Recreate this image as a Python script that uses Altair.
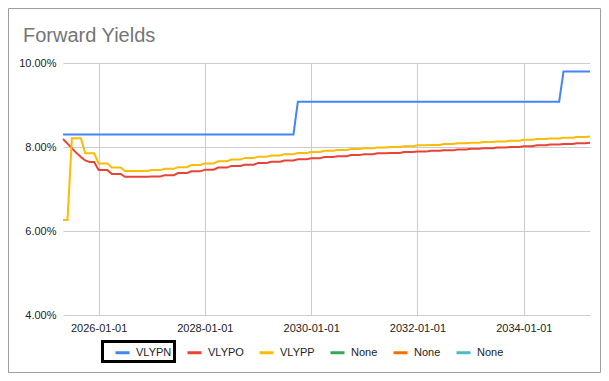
import altair as alt
import pandas as pd

# ---- data (monthly, percent) ----
start_month = "2025-05-01"
n_months = 120

series_names = ["VLYPN", "VLYPO", "VLYPP", "None1", "None2", "None3"]
series_colors = ["#4285F4", "#EA4335", "#FBBC04", "#34A853", "#FF6D01", "#46BDC6"]

vlypn = [
    8.30, 8.30, 8.30, 8.30, 8.30, 8.30, 8.30, 8.30, 8.30, 8.30, 8.30, 8.30,
    8.30, 8.30, 8.30, 8.30, 8.30, 8.30, 8.30, 8.30, 8.30, 8.30, 8.30, 8.30,
    8.30, 8.30, 8.30, 8.30, 8.30, 8.30, 8.30, 8.30, 8.30, 8.30, 8.30, 8.30,
    8.30, 8.30, 8.30, 8.30, 8.30, 8.30, 8.30, 8.30, 8.30, 8.30, 8.30, 8.30,
    8.30, 8.30, 8.30, 8.30, 8.30, 9.08, 9.08, 9.08, 9.08, 9.08, 9.08, 9.08,
    9.08, 9.08, 9.08, 9.08, 9.08, 9.08, 9.08, 9.08, 9.08, 9.08, 9.08, 9.08,
    9.08, 9.08, 9.08, 9.08, 9.08, 9.08, 9.08, 9.08, 9.08, 9.08, 9.08, 9.08,
    9.08, 9.08, 9.08, 9.08, 9.08, 9.08, 9.08, 9.08, 9.08, 9.08, 9.08, 9.08,
    9.08, 9.08, 9.08, 9.08, 9.08, 9.08, 9.08, 9.08, 9.08, 9.08, 9.08, 9.08,
    9.08, 9.08, 9.08, 9.08, 9.08, 9.80, 9.80, 9.80, 9.80, 9.80, 9.80, 9.80,
]

vlypo = [
    8.19, 8.08, 7.97, 7.86, 7.76, 7.68, 7.64, 7.64, 7.45, 7.45, 7.45, 7.36,
    7.36, 7.36, 7.29, 7.29, 7.29, 7.29, 7.29, 7.29, 7.30, 7.30, 7.30, 7.33,
    7.33, 7.33, 7.38, 7.38, 7.38, 7.42, 7.42, 7.42, 7.46, 7.46, 7.46, 7.51,
    7.51, 7.51, 7.55, 7.55, 7.55, 7.58, 7.58, 7.58, 7.62, 7.62, 7.62, 7.65,
    7.65, 7.65, 7.68, 7.68, 7.68, 7.71, 7.71, 7.71, 7.73, 7.73, 7.73, 7.76,
    7.76, 7.76, 7.78, 7.78, 7.78, 7.81, 7.81, 7.81, 7.83, 7.83, 7.83, 7.85,
    7.85, 7.85, 7.86, 7.86, 7.86, 7.88, 7.88, 7.88, 7.89, 7.89, 7.89, 7.91,
    7.91, 7.91, 7.92, 7.92, 7.92, 7.94, 7.94, 7.94, 7.96, 7.96, 7.96, 7.97,
    7.97, 7.97, 7.99, 7.99, 7.99, 8.00, 8.00, 8.00, 8.02, 8.02, 8.02, 8.04,
    8.04, 8.04, 8.06, 8.06, 8.06, 8.07, 8.07, 8.07, 8.09, 8.09, 8.09, 8.10,
]

vlypp = [
    6.26, 6.26, 8.21, 8.21, 8.21, 7.85, 7.85, 7.85, 7.61, 7.61, 7.61, 7.51,
    7.51, 7.51, 7.43, 7.43, 7.43, 7.43, 7.43, 7.43, 7.45, 7.45, 7.45, 7.48,
    7.48, 7.48, 7.52, 7.52, 7.52, 7.57, 7.57, 7.57, 7.61, 7.61, 7.61, 7.66,
    7.66, 7.66, 7.70, 7.70, 7.70, 7.74, 7.74, 7.74, 7.77, 7.77, 7.77, 7.80,
    7.80, 7.80, 7.83, 7.83, 7.83, 7.86, 7.86, 7.86, 7.88, 7.88, 7.88, 7.91,
    7.91, 7.91, 7.93, 7.93, 7.93, 7.95, 7.95, 7.95, 7.97, 7.97, 7.97, 7.99,
    7.99, 7.99, 8.00, 8.00, 8.00, 8.02, 8.02, 8.02, 8.04, 8.04, 8.04, 8.05,
    8.05, 8.05, 8.07, 8.07, 8.07, 8.09, 8.09, 8.09, 8.10, 8.10, 8.10, 8.12,
    8.12, 8.12, 8.13, 8.13, 8.13, 8.15, 8.15, 8.15, 8.17, 8.17, 8.17, 8.19,
    8.19, 8.19, 8.20, 8.20, 8.20, 8.22, 8.22, 8.22, 8.24, 8.24, 8.24, 8.25,
]

y_ticks = [4, 6, 8, 10]
x_tick_years = [2026, 2028, 2030, 2032, 2034]
title_text = "Forward Yields"

# ---- build table ----
dates = pd.date_range(start_month, periods=n_months, freq="MS").strftime("%Y-%m-%dT00:00:00")
rows = []
for name, vals in [("VLYPN", vlypn), ("VLYPO", vlypo), ("VLYPP", vlypp)]:
    for d, v in zip(dates, vals):
        rows.append({"date": d, "series": name, "value": v})
df = pd.DataFrame(rows)

FONT = "Liberation Sans"
W, H = 527, 252
PAD_L, PAD_T = 55, 55
OX, OY = 8 + PAD_L, 8 + PAD_T  # page position of the plot origin

lines = alt.Chart(df).mark_line(strokeWidth=2).encode(
    x=alt.X(
        "date:T",
        scale=alt.Scale(
            domain=[alt.DateTime(year=2025, month=5, date=1), alt.DateTime(year=2035, month=4, date=1)],
            nice=False,
        ),
        axis=alt.Axis(
            values=[alt.DateTime(year=y, month=1, date=1) for y in x_tick_years],
            format="%Y-%m-%d",
            title=None,
            ticks=False,
            domain=False,
            grid=True,
            labelPadding=7,
        ),
    ),
    y=alt.Y(
        "value:Q",
        scale=alt.Scale(domain=[4, 10], nice=False, zero=False),
        axis=alt.Axis(
            values=y_ticks,
            labelExpr="format(datum.value, '.2f') + '%'",
            title=None,
            ticks=False,
            domain=False,
            grid=True,
            labelPadding=7,
        ),
    ),
    color=alt.Color(
        "series:N",
        scale=alt.Scale(domain=series_names, range=series_colors),
        legend=alt.Legend(
            orient="none",
            legendX=51,
            legendY=281,
            direction="horizontal",
            title=None,
            symbolType="stroke",
            symbolSize=196,
            symbolStrokeWidth=3,
            labelOffset=5,
            columnPadding=9,
            padding=0,
            labelExpr="indexof(datum.label, 'None') == 0 ? 'None' : datum.label",
        ),
    ),
)

deco = pd.DataFrame({"k": [0]})
border = alt.Chart(deco).mark_rect(filled=False, stroke="#9e9e9e", strokeWidth=1).encode(
    x=alt.value(8.5 - OX),
    x2=alt.value(600.5 - OX),
    y=alt.value(8.5 - OY),
    y2=alt.value(372.5 - OY),
)
focus = alt.Chart(deco).mark_rect(filled=False, stroke="#000000", strokeWidth=3).encode(
    x=alt.value(102.5 - OX),
    x2=alt.value(174.5 - OX),
    y=alt.value(341.5 - OY),
    y2=alt.value(361.5 - OY),
)
title = alt.Chart(deco).mark_text(
    align="left", baseline="alphabetic", font=FONT, fontSize=20, color="#757575"
).encode(
    x=alt.value(23 - OX),
    y=alt.value(42 - OY),
    text=alt.value(title_text),
)

chart = alt.layer(lines, border, focus, title).properties(
    width=W,
    height=H,
    autosize=alt.AutoSizeParams(type="none"),
    padding={"left": PAD_L, "top": PAD_T, "right": 593 - PAD_L - W, "bottom": 365 - PAD_T - H},
).configure_view(stroke=None).configure_axis(
    labelFont=FONT,
    labelFontSize=11,
    labelColor="#222222",
    gridColor="#cccccc",
    gridWidth=1,
).configure_legend(
    labelFont=FONT,
    labelFontSize=11,
    labelColor="#222222",
)

chart.save("out.html", embed_options={"renderer": "svg", "actions": False})
